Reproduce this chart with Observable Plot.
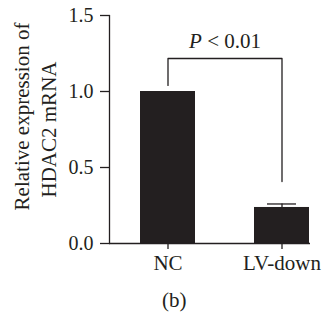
<!DOCTYPE html>
<html><head><meta charset="utf-8">
<script src="https://cdn.jsdelivr.net/npm/d3@7"></script>
<script src="https://cdn.jsdelivr.net/npm/@observablehq/plot@0.6"></script>
<style>
html,body{margin:0;padding:0;background:#fff;}
#chart svg{display:block;}
.caption{font-family:"Liberation Serif","Times New Roman",serif;font-size:21px;line-height:24px;color:#231f20;padding-left:162px;height:33px;}
</style></head><body>
<div id="chart"></div>
<div class="caption" id="cap"></div>
<script>
const categories = ["NC", "LV-down"];
const values = [1.0, 0.237];
const errors = [0.0, 0.023];
const yTicks = [0, 0.5, 1.0, 1.5];
const yLabelLines = ["Relative expression of", "HDAC2 mRNA"];
const bracketX = ["NC", "NC", "LV-down", "LV-down"];
const bracketY = [1.04, 1.217, 1.217, 0.408];
const pLabel = "P < 0.01";
const pLabelY = 1.283;
const caption = "(b)";

const ink = "#231f20";
const font = '"Liberation Serif","Times New Roman",serif';
const bars = categories.map((c, i) => ({cat: c, value: values[i], lo: values[i], hi: values[i] + errors[i]}));
const errBars = bars.filter(d => d.hi > d.lo);
const bracket = bracketX.map((x, i) => ({cat: x, y: bracketY[i]}));

const chart = Plot.plot({
  width: 329, height: 288,
  marginLeft: 109, marginRight: 19, marginTop: 15, marginBottom: 45,
  style: {fontFamily: font, fontSize: "21px", color: ink, background: "white"},
  x: {domain: categories, paddingInner: 0.52, paddingOuter: 0.14, align: 0.95, label: null},
  y: {domain: [0, 1.5], label: null},
  marks: [
    Plot.barY(bars, {x: "cat", y: "value", fill: ink}),
    Plot.ruleX(errBars, {x: "cat", y1: "lo", y2: "hi", stroke: ink, strokeWidth: 1.3}),
    Plot.tickY(errBars, {x: "cat", y: "hi", stroke: ink, strokeWidth: 1.3, insetLeft: 13, insetRight: 13}),
    Plot.ruleY([0], {stroke: ink, strokeWidth: 1.3}),
    Plot.frame({anchor: "left", stroke: ink, strokeWidth: 1.3}),
    Plot.axisY({ticks: yTicks, tickFormat: d3.format(".1f"), tickSize: 9, tickPadding: 7, fontSize: 20, stroke: ink, strokeWidth: 1.3, label: null}),
    Plot.axisX({tickSize: 6, tickPadding: 6, fontSize: 21, stroke: ink, strokeWidth: 1.3, label: null}),
    Plot.line(bracket, {x: "cat", y: "y", stroke: ink, strokeWidth: 1.3}),
    Plot.text([pLabel], {x: () => categories[0], y: () => pLabelY, text: d => d, dx: 57, lineAnchor: "bottom", fontSize: 21, fill: ink}),
    Plot.text([yLabelLines[0]], {frameAnchor: "left", textAnchor: "middle", rotate: -90, text: d => d, dx: -81, dy: -13, lineAnchor: "bottom", fontSize: 21, fill: ink}),
    Plot.text([yLabelLines[1]], {frameAnchor: "left", textAnchor: "middle", rotate: -90, text: d => d, dx: -54, lineAnchor: "bottom", fontSize: 21, fill: ink})
  ]
});

// italic P in the significance label
chart.querySelectorAll("text").forEach(t => {
  if (t.textContent === pLabel) {
    t.textContent = "";
    const ts = document.createElementNS("http://www.w3.org/2000/svg", "tspan");
    ts.setAttribute("font-style", "italic");
    ts.textContent = pLabel.slice(0, 1);
    t.appendChild(ts);
    t.appendChild(document.createTextNode(pLabel.slice(1)));
  }
});

document.getElementById("chart").appendChild(chart);
document.getElementById("cap").textContent = caption;
</script>
</body></html>
